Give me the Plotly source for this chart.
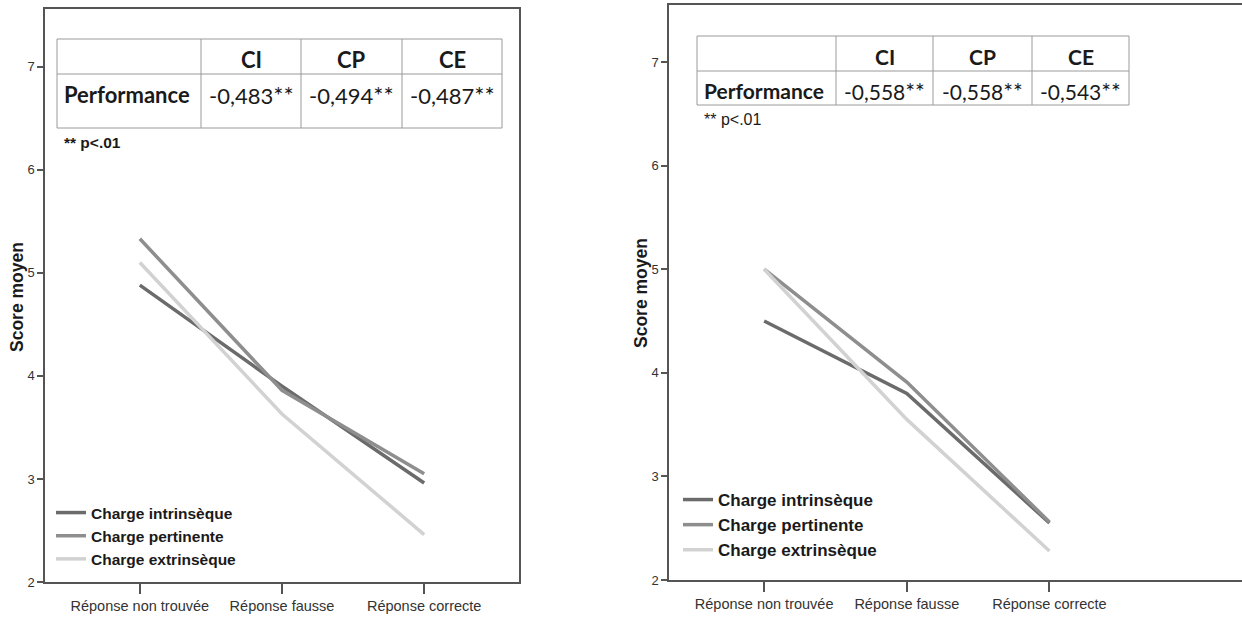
import plotly.graph_objects as go

categories = ["Réponse non trouvée", "Réponse fausse", "Réponse correcte"]
series_names = ["Charge intrinsèque", "Charge pertinente", "Charge extrinsèque"]

left_ci = [4.88, 3.90, 2.96]
left_cp = [5.33, 3.86, 3.05]
left_ce = [5.10, 3.63, 2.46]

right_ci = [4.50, 3.80, 2.55]
right_cp = [5.00, 3.91, 2.56]
right_ce = [5.00, 3.55, 2.28]

table_header = ["CI", "CP", "CE"]
table_row_label = "Performance"
left_corr = ["-0,483**", "-0,494**", "-0,487**"]
right_corr = ["-0,558**", "-0,558**", "-0,543**"]
note_text = "** p<.01"
y_title = "Score moyen"
y_ticks = [2, 3, 4, 5, 6, 7]

W, H = 1242, 617
def px(x):
    return x / W
def py(y):
    return 1 - y / H

colors = ["#6b6b6b", "#8e8e8e", "#d2d2d2"]
AX = "#555555"
SANS = "Liberation Sans, Arial"
XTICKFONT = dict(family=SANS, size=14.5, color="#333333")
YTICKFONT = dict(family=SANS, size=13, color="#333333")
TABFONT = "Lato, Carlito, Calibri, Open Sans, sans-serif"

fig = go.Figure()

for vals, name, col in zip([left_ci, left_cp, left_ce], series_names, colors):
    fig.add_trace(go.Scatter(x=categories, y=vals, mode="lines", name=name,
                             line=dict(color=col, width=3.5), xaxis="x", yaxis="y",
                             legend="legend"))
for vals, name, col in zip([right_ci, right_cp, right_ce], series_names, colors):
    fig.add_trace(go.Scatter(x=categories, y=vals, mode="lines", name=name,
                             line=dict(color=col, width=3.5), xaxis="x2", yaxis="y2",
                             legend="legend2"))

common_x = dict(type="category", showgrid=False, zeroline=False, showline=True,
                linecolor=AX, linewidth=1.5, ticks="outside", ticklen=10, tickwidth=1.5,
                tickcolor=AX, tickfont=XTICKFONT)
common_y = dict(showgrid=False, zeroline=False, showline=True, linecolor=AX, linewidth=1.5,
                ticks="outside", ticklen=6, tickwidth=1.5, tickcolor=AX, tickfont=YTICKFONT,
                tickvals=y_ticks)

fig.update_layout(
    width=W, height=H,
    margin=dict(l=0, r=0, t=0, b=0, autoexpand=False),
    paper_bgcolor="white", plot_bgcolor="white",
    xaxis=dict(common_x, domain=[px(45), px(519)], range=[-0.667, 2.667], mirror=True, anchor="y"),
    yaxis=dict(common_y, domain=[py(582), py(9)], range=[2, 7.56], mirror=True, anchor="x"),
    xaxis2=dict(common_x, domain=[px(669), 1.0], range=[-0.667, 3.35], mirror=True, anchor="y2"),
    yaxis2=dict(common_y, domain=[py(580), py(5)], range=[2, 7.55], anchor="x2"),
    legend=dict(x=px(51), y=py(496), xanchor="left", yanchor="top", bgcolor="rgba(0,0,0,0)",
                font=dict(family=SANS, size=15.5, color="#1a1a1a", weight="bold"),
                tracegroupgap=0, itemwidth=30),
    legend2=dict(x=px(678), y=py(482), xanchor="left", yanchor="top", bgcolor="rgba(0,0,0,0)",
                 font=dict(family=SANS, size=17, color="#1a1a1a", weight="bold"),
                 tracegroupgap=0, itemwidth=30),
    showlegend=True,
)

shapes = []
annotations = []

def val_text(v, size):
    if v.endswith("**"):
        return "%s<span style='font-size:%dpx'>**</span>" % (v[:-2], int(round(size * 1.1)))
    return v

def add_table(left, cols, top, mid, bottom, values, note_xy, note_bold, lab_size, val_size, head_dy):
    lc = "#9a9a9a"
    xs = [left] + cols
    for yy in (top, mid, bottom):
        shapes.append(dict(type="line", xref="paper", yref="paper", x0=px(xs[0]), x1=px(xs[-1]),
                           y0=py(yy), y1=py(yy), line=dict(color=lc, width=1)))
    for xx in xs:
        shapes.append(dict(type="line", xref="paper", yref="paper", x0=px(xx), x1=px(xx),
                           y0=py(top), y1=py(bottom), line=dict(color=lc, width=1)))
    hy = (top + mid) / 2 + head_dy
    for i, h in enumerate(table_header):
        cx = (xs[i + 1] + xs[i + 2]) / 2
        annotations.append(dict(xref="paper", yref="paper", x=px(cx), y=py(hy), text="<b>%s</b>" % h,
                                showarrow=False, xanchor="center", yanchor="middle",
                                font=dict(family=TABFONT, size=lab_size, color="#1a1a1a")))
    ry = mid + (val_size * 0.95)
    annotations.append(dict(xref="paper", yref="paper", x=px(left + 5), y=py(ry),
                            text="<b>%s</b>" % table_row_label, showarrow=False,
                            xanchor="left", yanchor="middle",
                            font=dict(family=TABFONT, size=lab_size, color="#1a1a1a")))
    for i, v in enumerate(values):
        cx = (xs[i + 1] + xs[i + 2]) / 2
        annotations.append(dict(xref="paper", yref="paper", x=px(cx), y=py(ry), text=val_text(v, val_size),
                                showarrow=False, xanchor="center", yanchor="middle",
                                font=dict(family=TABFONT, size=val_size, color="#1a1a1a")))
    t = "<b>%s</b>" % note_text if note_bold else note_text
    annotations.append(dict(xref="paper", yref="paper", x=px(note_xy[0]), y=py(note_xy[1]), text=t,
                            showarrow=False, xanchor="left", yanchor="middle",
                            font=dict(family=SANS, size=16 if not note_bold else 15.5, color="#1a1a1a")))

add_table(57, [201, 301, 402, 502], 39, 74, 128, left_corr, (62, 143), True, 22, 22, 3)
add_table(697, [836, 933, 1032, 1129], 36, 71, 105, right_corr, (702, 120), False, 21, 21, 3)

annotations.append(dict(xref="paper", yref="paper", x=px(17), y=py(297), text="<b>%s</b>" % y_title,
                        textangle=-90, showarrow=False, xanchor="center", yanchor="middle",
                        font=dict(family=SANS, size=17.5, color="#1a1a1a")))
annotations.append(dict(xref="paper", yref="paper", x=px(641), y=py(293), text="<b>%s</b>" % y_title,
                        textangle=-90, showarrow=False, xanchor="center", yanchor="middle",
                        font=dict(family=SANS, size=17.5, color="#1a1a1a")))

fig.update_layout(shapes=shapes, annotations=annotations)
fig.write_html("out.html")
